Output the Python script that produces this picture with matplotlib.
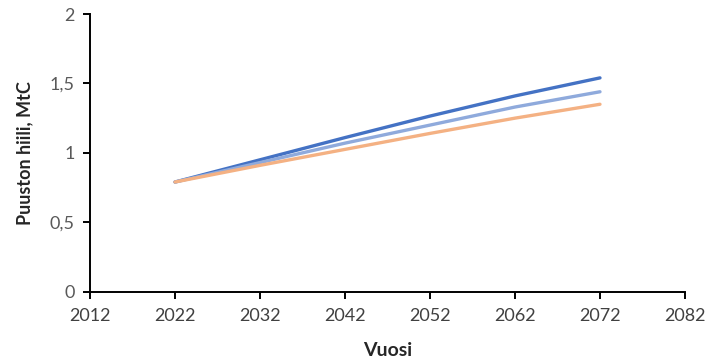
import matplotlib
matplotlib.use("Agg")
import matplotlib.pyplot as plt
from matplotlib.ticker import FuncFormatter

years = [2022, 2032, 2042, 2052, 2062, 2072]
series_high = [0.79, 0.95, 1.11, 1.265, 1.41, 1.54]
series_mid = [0.79, 0.93, 1.07, 1.20, 1.33, 1.44]
series_low = [0.79, 0.91, 1.025, 1.14, 1.25, 1.35]

x_ticks = [2012, 2022, 2032, 2042, 2052, 2062, 2072, 2082]
y_ticks = [0, 0.5, 1, 1.5, 2]

plt.rcParams['font.family'] = ['Lato', 'DejaVu Sans']

fig = plt.figure(figsize=(7.05, 3.63), dpi=100)
ax = fig.add_axes([0.1277, 0.1964, 0.8439, 0.765])

ax.plot(years, series_high, color='#4472C4', lw=2.4, solid_capstyle='round')
ax.plot(years, series_mid, color='#8FAADC', lw=2.4, solid_capstyle='round')
ax.plot(years, series_low, color='#F4B183', lw=2.4, solid_capstyle='round')

ax.set_xlim(2012, 2082)
ax.set_ylim(0, 2)
ax.set_xticks(x_ticks)
ax.set_yticks(y_ticks)
ax.yaxis.set_major_formatter(FuncFormatter(lambda v, p: f"{v:g}".replace('.', ',')))

for s in ('top', 'right'):
    ax.spines[s].set_visible(False)
for s in ('left', 'bottom'):
    ax.spines[s].set_linewidth(1.4)
    ax.spines[s].set_color('black')

ax.tick_params(axis='both', direction='out', length=5, width=1.4, color='black',
               labelsize=13, labelcolor='#595959')
ax.tick_params(axis='x', pad=7, labelcolor='#404040')
ax.tick_params(axis='y', pad=6)

ax.set_xlabel('Vuosi', fontsize=14, fontweight='bold', color='#262626', labelpad=13)
ax.set_ylabel('Puuston hiili, MtC', fontsize=13, fontweight='bold', color='#262626', labelpad=12)

fig.savefig('out.png', dpi=100)
